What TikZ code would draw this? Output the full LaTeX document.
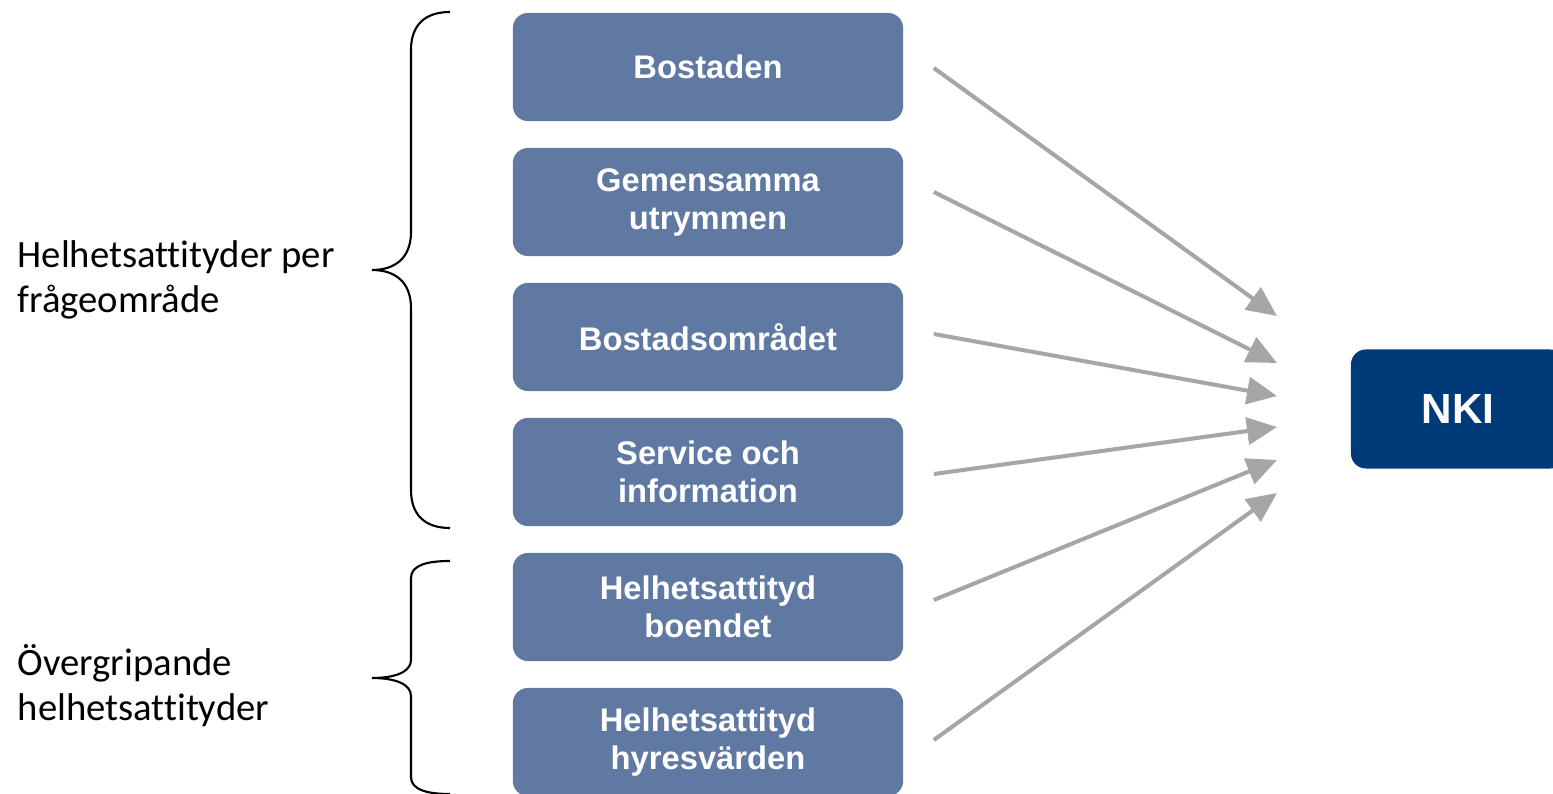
\documentclass[tikz,border=0pt]{standalone}
\usepackage{fontspec}
\setmainfont{Carlito}[Ligatures=NoCommon]
\newfontfamily\arialfont{Liberation Sans}
\usetikzlibrary{arrows.meta}
\definecolor{boxblue}{HTML}{5F79A2}
\definecolor{nkiblue}{HTML}{003A78}
\definecolor{arrowgray}{HTML}{A6A6A6}
\tikzstyle{block} = [rectangle, rounded corners=1.5mm, fill=boxblue, text=white,
    font=\arialfont\bfseries\fontsize{9.3}{10.8}\selectfont, align=center,
    minimum width=3.9cm, minimum height=1.08cm, inner sep=0pt]
\tikzstyle{target} = [block, fill=nkiblue, font=\arialfont\bfseries\fontsize{12}{14}\selectfont,
    minimum width=2.14cm, minimum height=1.19cm]
\tikzstyle{link} = [draw=arrowgray, line width=1.15pt,
    -{Triangle[length=3mm,width=2.7mm]}]
\tikzstyle{group} = [font=\fontsize{11}{12.8}\selectfont, align=left, anchor=west, inner sep=0pt]
\tikzstyle{bracket} = [draw=black, line width=0.6pt]

\begin{document}
\begin{tikzpicture}[x=0.01cm,y=-0.01cm]
\useasboundingbox (0,0) rectangle (1553,794);

\node[block] (b1) at (708,67) {Bostaden};
\node[block] (b2) at (708,202) {Gemensamma\\utrymmen};
\node[block] (b3) at (708,337) {Bostadsområdet};
\node[block] (b4) at (708,472) {Service och\\information};
\node[block] (b5) at (708,607) {Helhetsattityd\\boendet};
\node[block] (b6) at (708,742) {Helhetsattityd\\hyresvärden};

\node[target] (nki) at (1458,409) {NKI};

\node[group] (g1) at (17,280) {Helhetsattityder per\\frågeområde};
\node[group] (g2) at (17,686) {Övergripande\\helhetsattityder};

% braces
\draw[bracket] (450,12) .. controls (425,12) and (411,25) .. (411,50) -- (411,232)
    .. controls (411,258) and (395,270) .. (372,270)
    .. controls (395,270) and (411,282) .. (411,308) -- (411,490)
    .. controls (411,515) and (425,528) .. (450,528);
\draw[bracket] (450,561) .. controls (425,561) and (411,566) .. (411,578) -- (411,660)
    .. controls (411,672) and (395,678) .. (372,678)
    .. controls (395,678) and (411,684) .. (411,696) -- (411,777)
    .. controls (411,789) and (425,794) .. (450,794);

% arrow ends
\coordinate (t1) at (1277,316);
\coordinate (t2) at (1277,363);
\coordinate (t3) at (1277,396);
\coordinate (t4) at (1277,427);
\coordinate (t5) at (1277,460);
\coordinate (t6) at (1277,493);

\draw[link] ([xshift=0.3cm,yshift=-0.01cm]b1.east) -- (t1);
\draw[link] ([xshift=0.3cm,yshift=0.10cm]b2.east) -- (t2);
\draw[link] ([xshift=0.3cm,yshift=0.03cm]b3.east) -- (t3);
\draw[link] ([xshift=0.3cm,yshift=-0.02cm]b4.east) -- (t4);
\draw[link] ([xshift=0.3cm,yshift=0.07cm]b5.east) -- (t5);
\draw[link] ([xshift=0.3cm,yshift=0.02cm]b6.east) -- (t6);

\end{tikzpicture}
\end{document}
